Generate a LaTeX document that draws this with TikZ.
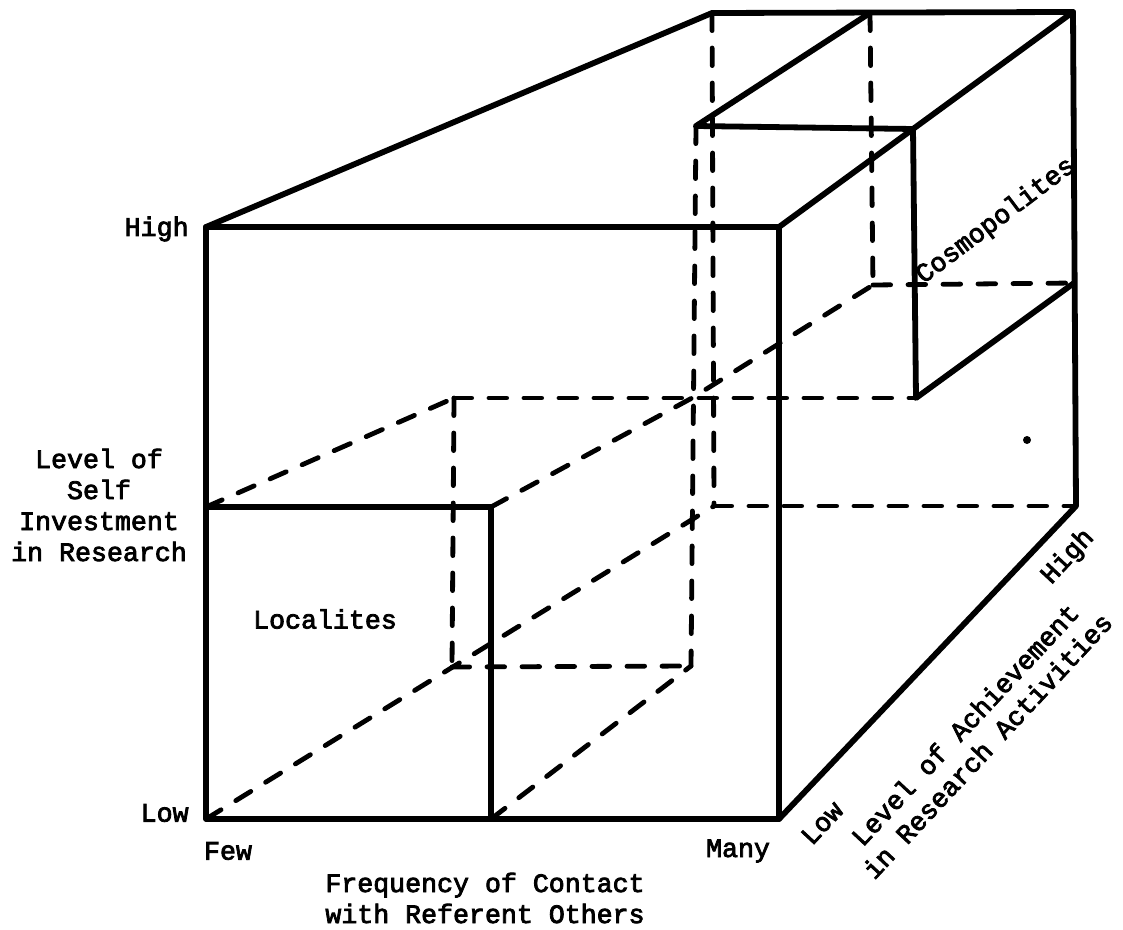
\documentclass[tikz,border=0pt]{standalone}
\usepackage{fontspec}
\newfontfamily\tw{Liberation Mono}[FakeBold=3]
\begin{document}
\begin{tikzpicture}[x=0.5pt,y=-0.5pt,
  solidln/.style={line width=2.9pt, line cap=round, line join=round},
  dashln/.style={line width=2.4pt, line cap=round, dash pattern=on 8.8pt off 8.7pt},
  lbl/.style={font=\tw\fontsize{13.3}{15.5}\selectfont, inner sep=0pt, align=center}]
\useasboundingbox (0,0) rectangle (1123,930);
% outer box
\coordinate (A) at (206,819);
\coordinate (B) at (779,819);
\coordinate (C) at (779,227);
\coordinate (D) at (206,227);
\coordinate (E) at (712,13);
\coordinate (G) at (1073,12);
\coordinate (H) at (1076,506);
\coordinate (K) at (714,506);
% localites block
\coordinate (L1) at (206,507);
\coordinate (L2) at (491,507);
\coordinate (L3) at (491,819);
\coordinate (L4) at (454,398);
\coordinate (L5) at (692,398);
\coordinate (L6) at (691,666);
\coordinate (L7) at (452,667);
% cosmopolites block
\coordinate (P1) at (696,126);
\coordinate (P2) at (913,129);
\coordinate (P3) at (916,398);
\coordinate (P4) at (870,13);
\coordinate (P5) at (873,285);
\coordinate (P6) at (1074,283);
\coordinate (dot) at (1027,440);
% hidden edges
\draw[dashln] (A) -- (K);
\draw[dashln] (E) -- (K);
\draw[dashln] (K) -- (H);
\draw[dashln] (L1) -- (L4);
\draw[dashln] (L4) -- (L7);
\draw[dashln] (L7) -- (L6);
\draw[dashln] (L3) -- (L6);
\draw[dashln] (L2) -- (L5) -- (P5);
\draw[dashln] (P1) -- (L6);
\draw[dashln] (L4) -- (P3);
\draw[dashln] (P4) -- (P5);
\draw[dashln] (P5) -- (P6);
% visible edges
\draw[solidln] (A) -- (B) -- (C) -- (D) -- cycle;
\draw[solidln] (D) -- (E) -- (G) -- (H) -- (B);
\draw[solidln] (C) -- (G);
\draw[solidln] (L1) -- (L2) -- (L3);
\draw[solidln] (P4) -- (P1) -- (P2) -- (P3) -- (P6);
\fill (dot) circle (2pt);
% labels
\node[lbl, anchor=east] (highL) at (189,229) {High};
\node[lbl, anchor=east] (lowL) at (189,813) {Low};
\node[lbl] (selfinv) at (99,505) {Level of\\Self\\Investment\\in Research};
\node[lbl] (local) at (325,619) {Localites};
\node[lbl, rotate=37] (cosmo) at (996,221) {Cosmopolites};
\node[lbl] (few) at (228,851) {Few};
\node[lbl] (many) at (738,851) {Many};
\node[lbl] (freq) at (485,898) {Frequency of Contact\\with Referent Others};
\node[lbl, rotate=47] (lowR) at (822,823) {Low};
\node[lbl, rotate=47] (highR) at (1068,557) {High};
\node[lbl, rotate=47] (achieve) at (976,735) {Level of Achievement\\in Research Activities};
\end{tikzpicture}
\end{document}
